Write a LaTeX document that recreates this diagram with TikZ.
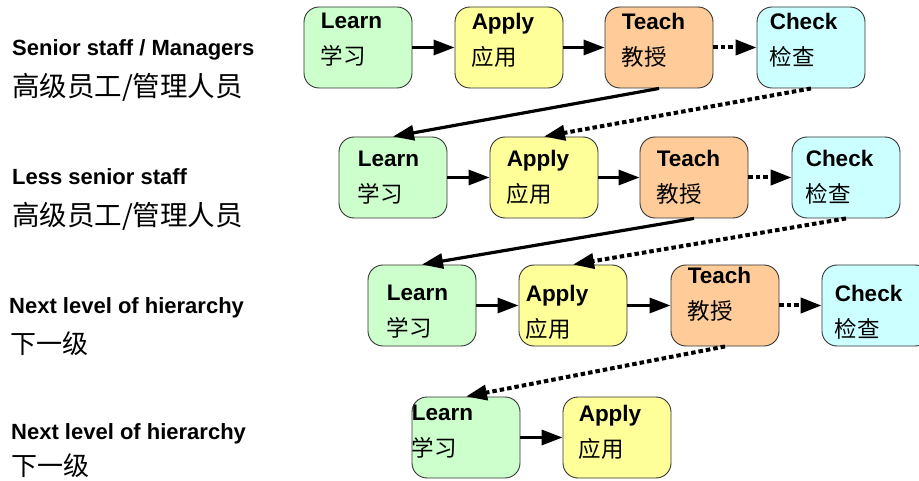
\documentclass[tikz,border=0pt]{standalone}
\usepackage{fontspec}
\setmainfont{Liberation Sans}
\newfontfamily\cjk{Noto Sans CJK SC}
\usetikzlibrary{arrows.meta}
\definecolor{learncol}{HTML}{CCFFCC}
\definecolor{applycol}{HTML}{FFFF99}
\definecolor{teachcol}{HTML}{FFCC99}
\definecolor{checkcol}{HTML}{CCFFFF}
\tikzset{
  stagebox/.style={draw=black!80, line width=0.9pt, rounded corners=15pt, minimum width=108pt, minimum height=81pt, inner sep=0pt},
  stagetext/.style={anchor=north west, inner sep=0pt, align=left, font=\fontsize{22.5}{36}\selectfont},
  rowlabel/.style={anchor=base west, inner sep=0pt, font=\fontsize{22}{26}\selectfont\bfseries},
  rowlabelzh/.style={anchor=base west, inner sep=0pt, font=\fontsize{26}{30}\selectfont\cjk},
  flow/.style={line width=3.2pt, -{Triangle[length=21pt,width=15pt]}},
  flowdot/.style={flow, line width=4pt, dash pattern=on 4.5pt off 3pt},
}
\begin{document}
\begin{tikzpicture}[x=1pt,y=-1pt]
                \path[use as bounding box, clip] (0,0) rectangle (919,481);
                \foreach \n/\x/\y/\c/\dx/\dy/\en/\zh in {
                    l1/358/47.5/learncol/17/6/Learn/学习, a1/509/47.5/applycol/17/6/Apply/应用,
                    t1/659/47.5/teachcol/17/6/Teach/教授, c1/811/47.5/checkcol/13/6/Check/检查,
                    l2/393/177.5/learncol/19/14/Learn/学习, a2/544/177.5/applycol/17/13/Apply/应用,
                    t2/694/177.5/teachcol/17/13/Teach/教授, c2/846/177.5/checkcol/14/13/Check/检查,
                    l3/422/305.5/learncol/19/20/Learn/学习, a3/573/305.5/applycol/7/20/Apply/应用,
                    t3/725/305.5/teachcol/17/2/Teach/教授, c3/876/305.5/checkcol/13/20/Check/检查,
                    l4/466/437.5/learncol/0/8/Learn/学习, a4/617/437.5/applycol/16/8/Apply/应用}{
                    \node[stagebox, fill=\c] (\n) at (\x,\y) {};
                    \node[stagetext] (\n-txt) at ([xshift=\dx pt, yshift=-\dy pt]\n.north west) {{\bfseries\en}\\{\cjk\zh}};
                }
                \node[rowlabel] (senior) at (12,56) {Senior staff / Managers};
                \node[rowlabelzh, font=\fontsize{27.5}{30}\selectfont\cjk] (senior-zh) at (12,97) {高级员工/管理人员};
                \node[rowlabel] (less) at (12,185) {Less senior staff};
                \node[rowlabelzh, font=\fontsize{27.5}{30}\selectfont\cjk] (less-zh) at (12,226) {高级员工/管理人员};
                \node[rowlabel] (next) at (9,313) {Next level of hierarchy};
                \node[rowlabelzh] (next-zh) at (10,353) {下一级};
                \node[rowlabel] (last) at (11,439) {Next level of hierarchy};
                \node[rowlabelzh] (last-zh) at (11,475) {下一级};
                \foreach \r in {1,2,3}{
                    \draw[flow] (l\r) -- (a\r);
                    \draw[flow] (a\r) -- (t\r);
                    \draw[flowdot] (t\r) -- (c\r);
                }
                \draw[flow] (l4) -- (a4);
                \draw[flow] (t1.south) -- (l2.north);
                \draw[flowdot] (c1.south) -- (a2.north);
                \draw[flow] (t2.south) -- (l3.north);
                \draw[flowdot] (c2.south) -- (a3.north);
                \draw[flowdot] (t3.south) -- (l4.north);
            \end{tikzpicture}
\end{document}
